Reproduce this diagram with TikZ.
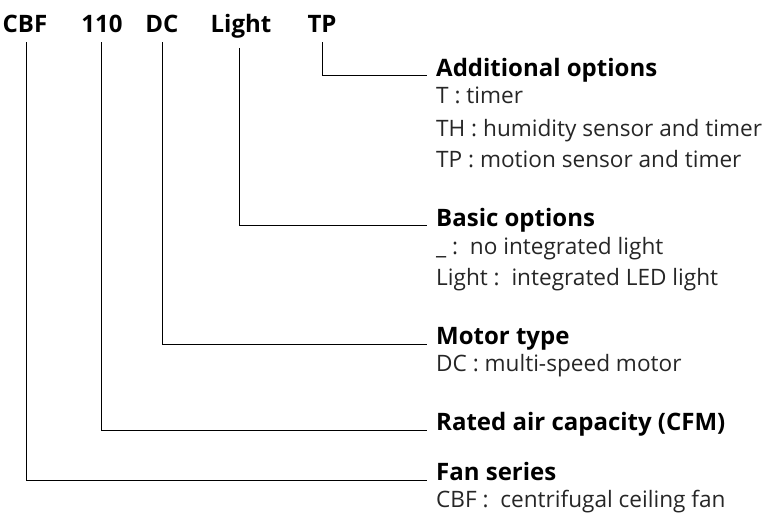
\documentclass[tikz,border=0pt]{standalone}
\usepackage{fontspec}
\setmainfont{Open Sans}
\begin{document}
\begin{tikzpicture}[x=1pt,y=-1pt,
  top/.style={font=\fontsize{24}{24}\selectfont\bfseries,anchor=base,inner sep=0pt},
  head/.style={font=\fontsize{24}{24}\selectfont\bfseries,anchor=base west,inner sep=0pt},
  desc/.style={font=\fontsize{22.6}{22.6}\selectfont,anchor=base west,inner sep=0pt,text=black!85},
  ln/.style={line width=0.9pt}]
\useasboundingbox (0,0) rectangle (768,524);
\node[top] (cbf) at (25,33) {CBF};
\node[top] (n110) at (102,33) {110};
\node[top] (dc) at (162,33) {DC};
\node[top] (light) at (241,33) {Light};
\node[top] (tp) at (322,33) {TP};

\node[head] (h1) at (436,77) {Additional options};
\node[desc] (d11) at (436,104) {T : timer};
\node[desc] (d12) at (436,136) {TH : humidity sensor and timer};
\node[desc] (d13) at (436,167) {TP : motion sensor and timer};
\node[head] (h2) at (436,226) {Basic options};
\node[desc] (d21) at (436,254) {\_ :\ \ no integrated light};
\node[desc] (d22) at (436,285) {Light :\ \ integrated LED light};
\node[head] (h3) at (436,344) {Motor type};
\node[desc] (d31) at (436,371) {DC : multi-speed motor};
\node[head] (h4) at (436,430) {Rated air capacity (CFM)};
\node[head] (h5) at (436,480) {Fan series};
\node[desc] (d51) at (436,507) {CBF :\ \ centrifugal ceiling fan};

\coordinate (e1) at (427,75);
\coordinate (e2) at (427,225);
\coordinate (e3) at (427,344);
\coordinate (e4) at (427,430);
\coordinate (e5) at (427,480);
\draw[ln] (tp.south) ++(0,9) |- (e1);
\draw[ln] (light.south) ++(-2,9) |- (e2);
\draw[ln] (dc.south) ++(0,9) |- (e3);
\draw[ln] (n110.south) ++(-1,9) |- (e4);
\draw[ln] (cbf.south) ++(1,9) |- (e5);
\end{tikzpicture}
\end{document}
